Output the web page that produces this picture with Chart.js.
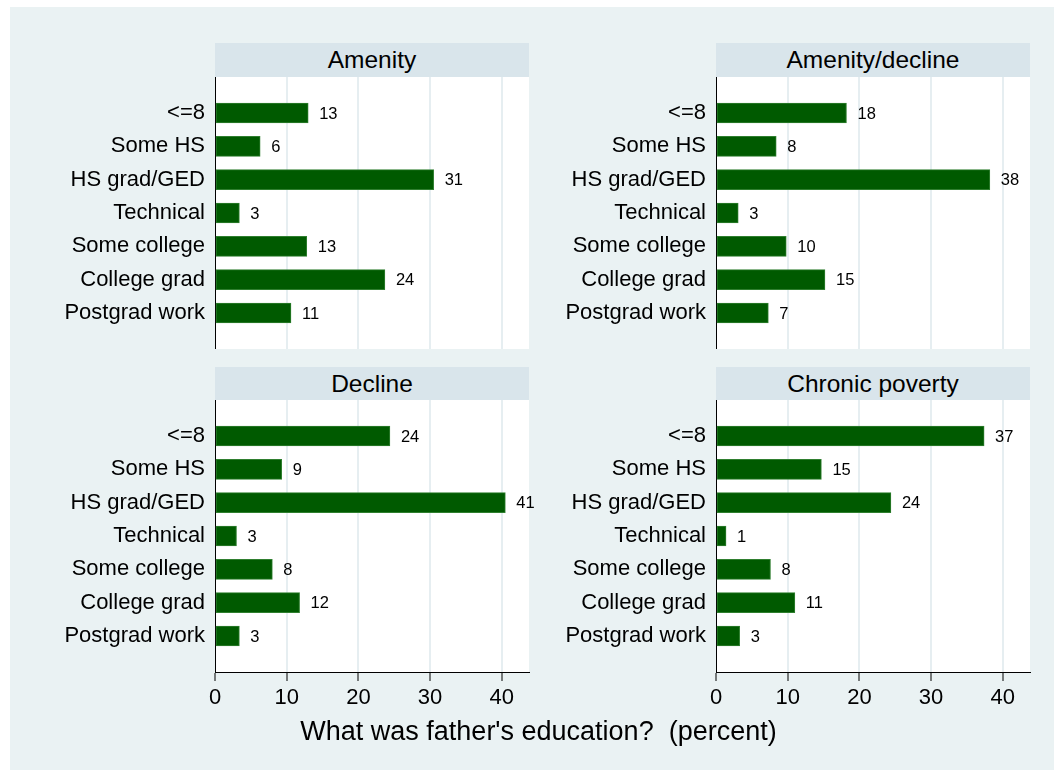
<!DOCTYPE html>
<html>
<head>
<meta charset="utf-8">
<script src="https://cdn.jsdelivr.net/npm/chart.js@4.4.1/dist/chart.umd.min.js"></script>
<style>
    body { margin: 0; background: #fff; font-family: "Liberation Sans", Arial, sans-serif; }
    #page { position: relative; width: 1054px; height: 770px; overflow: hidden; }
    #bg { position: absolute; left: 10px; top: 7px; width: 1044px; height: 763px; background: #eaf2f3; }
    .strip { position: absolute; width: 314px; height: 34px; line-height: 34px; background: #d9e5eb;
             text-align: center; font-size: 24.5px; color: #000; }
    canvas { position: absolute; }
    #xtitle { position: absolute; left: 0; width: 1077px; top: 716px; text-align: center; font-size: 27px; color: #000; }
</style>
</head>
<body>
<div id="page">
    <div id="bg"></div>
    <div class="strip" id="s0" style="left:215px;top:43px">Amenity</div>
    <div class="strip" id="s1" style="left:716px;top:43px">Amenity/decline</div>
    <div class="strip" id="s2" style="left:215px;top:367px">Decline</div>
    <div class="strip" id="s3" style="left:716px;top:367px">Chronic poverty</div>
    <canvas id="c0" width="540" height="272" style="left:10px;top:77px"></canvas>
    <canvas id="c1" width="540" height="272" style="left:511px;top:77px"></canvas>
    <canvas id="c2" width="540" height="322" style="left:10px;top:400px"></canvas>
    <canvas id="c3" width="540" height="322" style="left:511px;top:400px"></canvas>
    <div id="xtitle">What was father's education?&nbsp;&nbsp;(percent)</div>
</div>
<script>
const categories = ['<=8', 'Some HS', 'HS grad/GED', 'Technical', 'Some college', 'College grad', 'Postgrad work'];
const xTicks = [0, 10, 20, 30, 40];

// percent of respondents
const amenity        = [13.0, 6.3, 30.5, 3.4, 12.8, 23.7, 10.6];
const amenityDecline = [18.2, 8.4, 38.2, 3.1, 9.8, 15.2, 7.3];
const decline        = [24.4, 9.3, 40.5, 3.0, 8.0, 11.8, 3.4];
const chronicPoverty = [37.4, 14.7, 24.4, 1.4, 7.6, 11.0, 3.3];

Chart.defaults.font.family = '"Liberation Sans", Arial, sans-serif';
Chart.defaults.color = '#000';

const plotBackground = {
    id: 'plotBackground',
    beforeDraw(chart) {
        const a = chart.chartArea;
        chart.ctx.save();
        chart.ctx.fillStyle = '#ffffff';
        chart.ctx.fillRect(a.left, a.top, a.right - a.left, a.bottom - a.top);
        chart.ctx.restore();
    }
};

const valueLabels = {
    id: 'valueLabels',
    afterDatasetsDraw(chart) {
        const ctx = chart.ctx;
        ctx.save();
        ctx.font = '16.5px "Liberation Sans", Arial, sans-serif';
        ctx.fillStyle = '#000';
        ctx.textAlign = 'left';
        ctx.textBaseline = 'middle';
        chart.getDatasetMeta(0).data.forEach((bar, i) => {
            const v = chart.data.datasets[0].data[i].x;
            ctx.fillText(String(Math.round(v)), bar.x + 11, bar.y + 1);
        });
        ctx.restore();
    }
};

function noEdgePadding(scale) {
    scale.paddingTop = 0;
    scale.paddingBottom = 0;
    scale.paddingLeft = 0;
    scale.paddingRight = 0;
}

function drawPanel(canvasId, values, showAxis) {
    const ctx = document.getElementById(canvasId).getContext('2d');

    const config = {
        type: 'bar',
        data: {
            datasets: [{
                data: values.map((v, i) => ({ x: v, y: i })),
                backgroundColor: '#005a00',
                borderColor: '#2f7f2f',
                borderWidth: 1,
                borderSkipped: false,
                barThickness: 20
            }]
        },
        options: {
            indexAxis: 'y',
            responsive: false,
            animation: false,
            layout: { padding: { left: 0, top: 0, bottom: 0, right: 21 } },
            plugins: {
                legend: { display: false },
                tooltip: { enabled: false }
            },
            scales: {
                x: {
                    type: 'linear',
                    min: 0,
                    max: 43.8,
                    afterBuildTicks: (scale) => { scale.ticks = xTicks.map(v => ({ value: v })); },
                    afterFit: (scale) => { scale.height = showAxis ? 50 : 0; noEdgePadding(scale); },
                    grid: {
                        color: (c) => c.tick && c.tick.value === 0 ? 'rgba(0,0,0,0)' : '#e6eef1',
                        lineWidth: 2,
                        drawTicks: showAxis,
                        tickLength: 9,
                        tickColor: '#000',
                        tickWidth: 1
                    },
                    border: { display: showAxis, color: '#000', width: 1 },
                    ticks: {
                        display: showAxis,
                        padding: 4,
                        font: { size: 22 },
                        color: '#000'
                    }
                },
                y: {
                    type: 'linear',
                    reverse: true,
                    offset: false,
                    min: -1.08,
                    max: 7.08,
                    afterBuildTicks: (scale) => { scale.ticks = categories.map((c, i) => ({ value: i })); },
                    afterFit: (scale) => { scale.width = 205; noEdgePadding(scale); },
                    grid: { display: false, drawTicks: false },
                    border: { display: true, color: '#000', width: 1 },
                    ticks: {
                        padding: 10,
                        font: { size: 22 },
                        color: '#000',
                        callback: (v) => categories[v]
                    }
                }
            }
        },
        plugins: [plotBackground, valueLabels]
    };

    new Chart(ctx, config);
}

drawPanel('c0', amenity, false);
drawPanel('c1', amenityDecline, false);
drawPanel('c2', decline, true);
drawPanel('c3', chronicPoverty, true);
</script>
</body>
</html>
